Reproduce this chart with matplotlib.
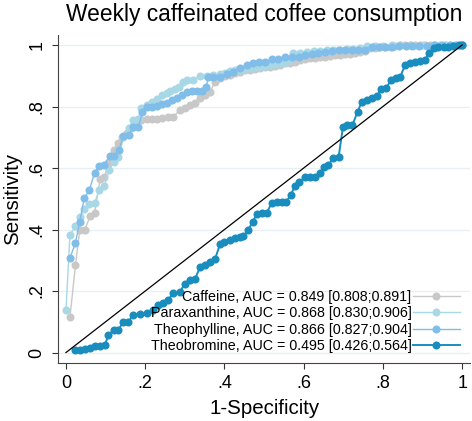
import matplotlib
matplotlib.use("Agg")
import matplotlib.pyplot as plt

plt.rcParams["font.family"] = ["Liberation Sans", "DejaVu Sans"]

# ROC points (false positive rate, true positive rate)
caffeine_fpr = [0.010, 0.024, 0.035, 0.048, 0.061, 0.072, 0.086, 0.097, 0.107, 0.120,
                0.132, 0.141, 0.153, 0.165, 0.178, 0.190, 0.204, 0.216, 0.229, 0.242,
                0.258, 0.271, 0.288, 0.300, 0.313, 0.326, 0.338, 0.351, 0.364, 0.376,
                0.389, 0.402, 0.414, 0.427, 0.439, 0.452, 0.465, 0.478, 0.490, 0.503,
                0.515, 0.528, 0.540, 0.553, 0.566, 0.578, 0.591, 0.604, 0.616, 0.629,
                0.641, 0.654, 0.667, 0.679, 0.692, 0.705, 0.717, 0.730, 0.742, 0.755,
                0.768, 0.780, 0.793, 0.806, 0.818, 0.831, 0.843, 0.856, 0.868, 0.881,
                0.894, 0.906, 0.919, 0.932, 0.944, 0.957, 0.969, 0.982, 0.994, 1.000]
caffeine_tpr = [0.115, 0.285, 0.400, 0.400, 0.444, 0.453, 0.563, 0.570, 0.616, 0.659,
                0.680, 0.700, 0.713, 0.729, 0.756, 0.756, 0.758, 0.758, 0.758, 0.762,
                0.765, 0.767, 0.789, 0.794, 0.805, 0.810, 0.827, 0.837, 0.848, 0.881,
                0.894, 0.900, 0.903, 0.908, 0.913, 0.919, 0.920, 0.922, 0.924, 0.927,
                0.930, 0.932, 0.935, 0.940, 0.942, 0.946, 0.950, 0.954, 0.957, 0.959,
                0.961, 0.962, 0.965, 0.966, 0.968, 0.970, 0.972, 0.975, 0.978, 0.982,
                0.990, 0.990, 0.992, 0.993, 0.995, 0.996, 1.000, 1.000, 1.000, 1.000,
                1.000, 1.000, 1.000, 1.000, 1.000, 1.000, 1.000, 1.000, 1.000, 1.000]

paraxanthine_fpr = [0.000, 0.010, 0.024, 0.035, 0.046, 0.059, 0.072, 0.084, 0.097, 0.109,
                    0.120, 0.132, 0.145, 0.158, 0.170, 0.183, 0.189, 0.204, 0.216, 0.229,
                    0.242, 0.254, 0.263, 0.275, 0.284, 0.296, 0.305, 0.320, 0.338, 0.355,
                    0.372, 0.389, 0.402, 0.414, 0.427, 0.439, 0.452, 0.465, 0.478, 0.490,
                    0.503, 0.515, 0.528, 0.540, 0.553, 0.566, 0.574, 0.591, 0.608, 0.625,
                    0.641, 0.658, 0.675, 0.692, 0.709, 0.725, 0.742, 0.759, 0.780, 0.800,
                    0.822, 0.843, 0.870, 0.900, 0.930, 0.960, 1.000]
paraxanthine_tpr = [0.137, 0.383, 0.410, 0.440, 0.466, 0.483, 0.486, 0.527, 0.542, 0.592,
                    0.620, 0.635, 0.700, 0.730, 0.756, 0.760, 0.794, 0.805, 0.816, 0.826,
                    0.837, 0.845, 0.851, 0.858, 0.865, 0.880, 0.886, 0.886, 0.899, 0.899,
                    0.902, 0.906, 0.910, 0.917, 0.918, 0.919, 0.921, 0.924, 0.927, 0.930,
                    0.932, 0.935, 0.938, 0.941, 0.946, 0.951, 0.973, 0.975, 0.978, 0.980,
                    0.982, 0.983, 0.984, 0.985, 0.986, 0.987, 0.990, 0.997, 0.998, 0.998,
                    0.999, 1.000, 1.000, 1.000, 1.000, 1.000, 1.000]

theophylline_fpr = [0.010, 0.024, 0.035, 0.046, 0.059, 0.072, 0.083, 0.096, 0.110, 0.122,
                    0.134, 0.145, 0.158, 0.170, 0.183, 0.193, 0.204, 0.216, 0.229, 0.242,
                    0.254, 0.267, 0.280, 0.292, 0.305, 0.317, 0.330, 0.343, 0.354, 0.359,
                    0.372, 0.389, 0.406, 0.422, 0.439, 0.456, 0.473, 0.486, 0.502, 0.519,
                    0.536, 0.553, 0.570, 0.587, 0.603, 0.620, 0.637, 0.654, 0.671, 0.688,
                    0.705, 0.721, 0.738, 0.755, 0.772, 0.789, 0.806, 0.823, 0.840, 0.857,
                    0.874, 0.891, 0.911, 0.930, 0.950, 0.970, 0.985, 1.000]
theophylline_tpr = [0.307, 0.357, 0.426, 0.502, 0.527, 0.585, 0.607, 0.610, 0.639, 0.639,
                    0.659, 0.704, 0.707, 0.734, 0.734, 0.783, 0.800, 0.800, 0.802, 0.808,
                    0.812, 0.821, 0.827, 0.837, 0.848, 0.851, 0.851, 0.851, 0.862, 0.895,
                    0.897, 0.897, 0.906, 0.913, 0.924, 0.935, 0.941, 0.946, 0.946, 0.953,
                    0.956, 0.960, 0.960, 0.960, 0.967, 0.970, 0.975, 0.978, 0.982, 0.984,
                    0.984, 0.984, 0.984, 0.984, 0.994, 0.995, 0.995, 0.995, 0.996, 0.997,
                    0.997, 0.998, 0.998, 0.999, 1.000, 1.000, 1.000, 1.000]

theobromine_fpr = [0.023, 0.035, 0.048, 0.061, 0.073, 0.086, 0.098, 0.107, 0.120, 0.132,
                   0.145, 0.157, 0.170, 0.187, 0.204, 0.220, 0.233, 0.246, 0.258, 0.271,
                   0.288, 0.300, 0.313, 0.326, 0.338, 0.351, 0.364, 0.376, 0.389, 0.400,
                   0.414, 0.427, 0.439, 0.448, 0.460, 0.471, 0.483, 0.494, 0.507, 0.519,
                   0.532, 0.545, 0.556, 0.567, 0.578, 0.589, 0.604, 0.616, 0.629, 0.641,
                   0.652, 0.662, 0.675, 0.688, 0.699, 0.710, 0.723, 0.736, 0.747, 0.759,
                   0.772, 0.785, 0.795, 0.808, 0.820, 0.833, 0.843, 0.856, 0.869, 0.881,
                   0.894, 0.907, 0.915, 0.928, 0.940, 0.953, 0.965, 0.978, 0.991, 1.000]
theobromine_tpr = [0.007, 0.009, 0.010, 0.014, 0.022, 0.022, 0.024, 0.057, 0.072, 0.074,
                   0.100, 0.100, 0.122, 0.124, 0.128, 0.139, 0.155, 0.160, 0.171, 0.193,
                   0.198, 0.223, 0.236, 0.240, 0.277, 0.285, 0.296, 0.303, 0.353, 0.361,
                   0.366, 0.372, 0.377, 0.379, 0.397, 0.426, 0.451, 0.453, 0.455, 0.486,
                   0.489, 0.489, 0.489, 0.513, 0.540, 0.556, 0.570, 0.572, 0.572, 0.585,
                   0.604, 0.610, 0.632, 0.635, 0.733, 0.740, 0.740, 0.783, 0.816, 0.821,
                   0.827, 0.834, 0.856, 0.859, 0.886, 0.892, 0.895, 0.935, 0.940, 0.946,
                   0.949, 0.951, 0.975, 0.989, 0.993, 0.993, 0.993, 0.997, 1.000, 1.000]

labels = [
    "Caffeine, AUC = 0.849 [0.808;0.891]",
    "Paraxanthine, AUC = 0.868 [0.830;0.906]",
    "Theophylline, AUC = 0.866 [0.827;0.904]",
    "Theobromine, AUC = 0.495 [0.426;0.564]",
]
colors = ["#c8c8c8", "#a8d8e5", "#80bde9", "#1a8dbf"]
ticks = [0, 0.2, 0.4, 0.6, 0.8, 1.0]
tick_labels = ["0", ".2", ".4", ".6", ".8", "1"]

series = [
    (caffeine_fpr, caffeine_tpr),
    (paraxanthine_fpr, paraxanthine_tpr),
    (theophylline_fpr, theophylline_tpr),
    (theobromine_fpr, theobromine_tpr),
]

fig = plt.figure(figsize=(4.72, 4.21), dpi=100)
ax = fig.add_axes([0.123, 0.1385, 0.873, 0.778])

for (fpr, tpr), label, color in zip(series, labels, colors):
    assert len(fpr) == len(tpr)
    lw = 1.4 if label.startswith("Theobromine") else 1.0
    ax.plot(fpr, tpr, color=color, marker="o", markersize=5.8, linewidth=lw,
            markeredgewidth=0, label=label)

ax.plot([0, 1], [0, 1], color="black", linewidth=0.9, zorder=5)

ax.set_xlim(-0.02, 1.02)
ax.set_ylim(-0.033, 1.032)
ax.set_xticks(ticks)
ax.set_xticklabels(tick_labels)
ax.set_yticks(ticks)
ax.set_yticklabels(tick_labels, rotation=90, va="center")
ax.tick_params(labelsize=13, length=4, width=0.8, color="#333333", pad=5)
ax.grid(axis="y", color="#e6f0f2", linewidth=0.9)
ax.set_axisbelow(True)
for side in ("top", "right"):
    ax.spines[side].set_visible(False)
for side in ("left", "bottom"):
    ax.spines[side].set_color("#444444")
    ax.spines[side].set_linewidth(0.8)

ax.set_xlabel("1-Specificity", fontsize=14.8, labelpad=5)
ax.set_ylabel("Sensitivity", fontsize=14.8, labelpad=5)
ax.set_title("Weekly caffeinated coffee consumption", fontsize=16.4, pad=10)

ax.legend(loc="lower right", bbox_to_anchor=(1.0, 0.0), frameon=False,
          fontsize=10.3, markerfirst=False, handlelength=3.3, handletextpad=0.1,
          labelspacing=0.15, borderaxespad=0.3, numpoints=1)

fig.savefig("out.png", dpi=100)
